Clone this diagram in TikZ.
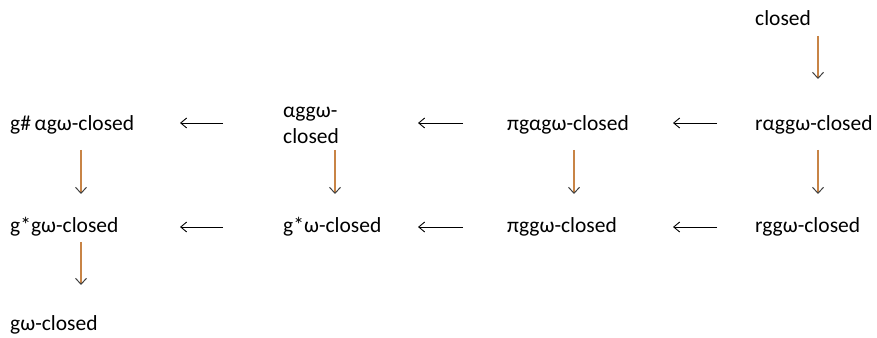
\documentclass[tikz,border=0pt]{standalone}
\usepackage{fontspec}
\setmainfont{Carlito}
\usetikzlibrary{arrows.meta,calc}
\definecolor{shaft}{RGB}{200,132,70}
\begin{document}
\begin{tikzpicture}[x=1pt,y=1pt,
  lbl/.style={anchor=base west,inner sep=0pt,font=\fontsize{21.5}{26}\selectfont},
  harr/.style={line width=0.9pt,black,-{Straight Barb[length=6pt,width=10pt,line width=0.9pt]}},
  varr/.style={line width=1.1pt,shaft,-{Straight Barb[length=6pt,width=11pt,line width=1pt,color=black!75]}}]
\useasboundingbox (0,0) rectangle (877,337);

% top row
\node[lbl] (closed) at (755,311) {closed};

% first row
\node[lbl] (gsa) at (10,206) {g\#\,αgω-closed};
\node[lbl,align=left] (agg) at (283,193) {αggω-\\closed};
\node[lbl] (pgag) at (507,206) {πgαgω-closed};
\node[lbl] (ragg) at (755,206) {rαggω-closed};

% second row
\node[lbl] (gsg) at (10,104) {g*gω-closed};
\node[lbl] (gsw) at (283,104) {g*ω-closed};
\node[lbl] (pgg) at (507,104) {πggω-closed};
\node[lbl] (rgg) at (755,104) {rggω-closed};

% bottom
\node[lbl] (gw) at (10,6) {gω-closed};

% horizontal implications (right to left)
\draw[harr] ($(agg.west |- gsa.base)+(-60,8)$) -- ($(gsa.base west)+(170,8)$);
\draw[harr] ($(pgag.base west)+(-44,8)$) -- ($(pgag.base west)+(-89,8)$);
\draw[harr] ($(ragg.base west)+(-38,8)$) -- ($(ragg.base west)+(-82,8)$);
\draw[harr] ($(gsw.base west)+(-60,6)$) -- ($(gsw.base west)+(-103,6)$);
\draw[harr] ($(pgg.base west)+(-44,6)$) -- ($(pgg.base west)+(-89,6)$);
\draw[harr] ($(rgg.base west)+(-38,6)$) -- ($(rgg.base west)+(-82,6)$);

% vertical implications (top to bottom)
\draw[varr] ($(closed.base west)+(63,-10)$) -- ($(ragg.base west)+(63,52)$);
\draw[varr] ($(gsa.base west)+(71,-19)$) -- ($(gsg.base west)+(71,39)$);
\draw[varr] ($(agg.base west)+(52,-6)$) -- ($(gsw.base west)+(52,39)$);
\draw[varr] ($(pgag.base west)+(67,-19)$) -- ($(pgg.base west)+(67,39)$);
\draw[varr] ($(ragg.base west)+(63,-19)$) -- ($(rgg.base west)+(63,39)$);
\draw[varr] ($(gsg.base west)+(71,-9)$) -- ($(gw.base west)+(71,46)$);
\end{tikzpicture}
\end{document}
